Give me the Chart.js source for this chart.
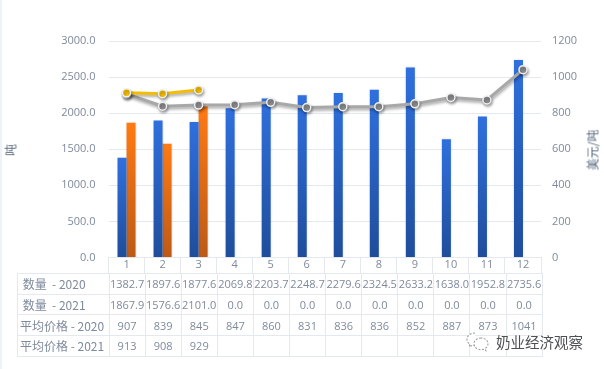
<!DOCTYPE html>
<html lang="zh">
<head>
<meta charset="utf-8">
<title>奶业经济观察</title>
<script src="https://cdn.jsdelivr.net/npm/chart.js@4"></script>
<style>
    html, body { margin: 0; padding: 0; background: #fff; }
    #wrap { position: relative; width: 604px; height: 369px; overflow: hidden; background: #fff;
            font-family: "Open Sans", "Noto Sans CJK SC", sans-serif; color: #7f8a9c; filter: blur(0.35px); }
    #wrap:before { content: ""; position: absolute; left: 0; top: 0; bottom: 0; width: 2px; background: #eef3fa; }
    canvas { position: absolute; left: 0; top: 0; }
    table { position: absolute; left: 17px; top: 273px; border-collapse: collapse; table-layout: fixed; font-size: 11px; }
    td { border: 1px solid #e4e8ef; width: 35.1px; height: 19.7px; padding: 0; text-align: center; white-space: nowrap; overflow: visible; }
    td.name { width: 88.5px; padding-left: 2px; text-align: left; font-family: "Noto Sans CJK SC", sans-serif; font-size: 12px; }
    .axis-title { position: absolute; font-family: "Noto Sans CJK SC", sans-serif; font-size: 12px; color: #56667c;
                  transform: translate(-50%, -50%) rotate(-90deg); white-space: nowrap; }
    #mark { position: absolute; left: 466px; top: 331px; display: flex; align-items: center; gap: 6px;
            font-family: "Noto Sans CJK SC", sans-serif; font-size: 14.5px; color: #4c4f53;
            text-shadow: 0 0 2px #fff, 0 0 2px #fff; }
</style>
</head>
<body>
<div id="wrap">
    <canvas id="mixChart" width="604" height="369"></canvas>
    <div class="axis-title" style="left: 10px; top: 150px;">吨</div>
    <div class="axis-title" style="left: 592px; top: 150px;">美元/吨</div>
    <table id="dataTable"></table>
    <div id="mark">
        <svg width="24" height="20" viewBox="0 0 24 20">
            <path d="M9 1C4.5 1 1 3.8 1 7.3c0 2 1.2 3.7 3 4.9L3.2 14.800l3-1.500c.9.200 1.800.300 2.800.300" fill="#fff" stroke="#9a9da1" stroke-width="1.100" stroke-dasharray="2 1.500"/>
            <path d="M15 6c-4 0-7 2.600-7 5.800s3 5.800 7 5.800c.8 0 1.500-.100 2.200-.300l2.600 1.400-.7-2.300c1.700-1.100 2.900-2.800 2.900-4.600C22 8.600 19 6 15 6z" fill="#fff" stroke="#9a9da1" stroke-width="1.100" stroke-dasharray="2 1.500"/>
        </svg>
        <span>奶业经济观察</span>
    </div>
</div>
<script>
"use strict";

const months = ['1', '2', '3', '4', '5', '6', '7', '8', '9', '10', '11', '12'];
const qty2020 = [1382.7, 1897.6, 1877.6, 2069.8, 2203.7, 2248.7, 2279.6, 2324.5, 2633.2, 1638.0, 1952.8, 2735.6];
const qty2021 = [1867.9, 1576.6, 2101.0, 0, 0, 0, 0, 0, 0, 0, 0, 0];
const price2020 = [907, 839, 845, 847, 860, 831, 836, 836, 852, 887, 873, 1041];
const price2021 = [913, 908, 929, null, null, null, null, null, null, null, null, null];

// Вертикальний градієнт окремо для кожного стовпчика
function barGradient(top, bottom) {
    return function(ctx) {
        const scale = ctx.chart.scales.y;
        if (!scale || ctx.raw === undefined) return top;
        const y0 = scale.getPixelForValue(ctx.raw);
        const y1 = scale.getPixelForValue(0);
        // До першого layout шкала ще не має координат
        if (!isFinite(y0) || !isFinite(y1)) return top;
        const g = ctx.chart.ctx.createLinearGradient(0, y0, 0, y1);
        g.addColorStop(0, top);
        g.addColorStop(1, bottom);
        return g;
    };
}

// Тінь під лініями та стовпчиками
const shadowPlugin = {
    id: 'shadow',
    beforeDatasetDraw: function(chart, args) {
        const c = chart.ctx;
        const isLine = args.meta.type === 'line';
        c.save();
        c.shadowColor = isLine ? 'rgba(0,0,0,0.35)' : 'rgba(0,0,0,0.15)';
        c.shadowBlur = isLine ? 3 : 2;
        c.shadowOffsetX = isLine ? 1 : 0.5;
        c.shadowOffsetY = isLine ? 2 : 0;
    },
    afterDatasetDraw: function(chart) {
        chart.ctx.restore();
    }
};

new Chart(document.getElementById('mixChart'), {
    type: 'bar',
    plugins: [shadowPlugin],
    data: {
        labels: months,
        datasets: [
            {
                label: '平均价格 - 2021', type: 'line', yAxisID: 'y1', data: price2021, order: 1,
                borderColor: '#f5bd00', backgroundColor: '#f5bd00', borderWidth: 3,
                pointRadius: 4, pointBorderColor: '#eceff3', pointBorderWidth: 1.5, tension: 0
            },
            {
                label: '平均价格 - 2020', type: 'line', yAxisID: 'y1', data: price2020, order: 2,
                borderColor: '#a8a8a8', backgroundColor: '#8c8c8c', borderWidth: 3,
                pointRadius: 4, pointBorderColor: '#eceff3', pointBorderWidth: 1.5, tension: 0
            },
            {
                label: '数量 - 2020', data: qty2020, yAxisID: 'y', order: 3,
                backgroundColor: barGradient('#2f70de', '#1f4d9b'),
                categoryPercentage: 0.5, barPercentage: 1
            },
            {
                label: '数量 - 2021', data: qty2021, yAxisID: 'y', order: 4,
                backgroundColor: barGradient('#ff7a12', '#bd5a16'),
                categoryPercentage: 0.5, barPercentage: 1
            }
        ]
    },
    options: {
        responsive: false,
        animation: false,
        layout: { padding: { top: 41, bottom: 95 } },
        plugins: { legend: { display: false }, tooltip: { enabled: false } },
        scales: {
            x: {
                grid: { color: '#e4e8ef', drawOnChartArea: false, tickLength: 16 },
                border: { color: '#e4e8ef' },
                ticks: { color: '#7f8a9c', font: { family: 'Open Sans', size: 11 }, padding: -15, maxRotation: 0 },
                afterFit: function(scale) { scale.height = 16.5; }
            },
            y: {
                position: 'left', min: 0, max: 3000,
                grid: { color: '#e4e8ef', drawTicks: false },
                border: { display: false },
                ticks: {
                    stepSize: 500, color: '#7f8a9c', padding: 13,
                    font: { family: 'Open Sans', size: 11 },
                    callback: function(v) { return v.toFixed(1); }
                },
                afterFit: function(scale) { scale.width = 108.5; }
            },
            y1: {
                position: 'right', min: 0, max: 1200,
                grid: { display: false, drawTicks: false },
                border: { display: false },
                ticks: {
                    stepSize: 200, color: '#7f8a9c', padding: 11,
                    font: { family: 'Open Sans', size: 11 },
                    callback: function(v) { return String(v); }
                },
                afterFit: function(scale) { scale.width = 63; }
            }
        }
    }
});

// Таблиця даних під графіком
const tableRows = [
    ['\u00a0数量\u00a0\u00a0- 2020', qty2020.map(function(v) { return v.toFixed(1); })],
    ['\u00a0数量\u00a0\u00a0- 2021', qty2021.map(function(v) { return v.toFixed(1); })],
    ['平均价格 - 2020', price2020.map(String)],
    ['平均价格 - 2021', price2021.map(function(v) { return v === null ? '' : String(v); })]
];
document.getElementById('dataTable').innerHTML = tableRows.map(function(row) {
    return '<tr><td class="name">' + row[0] + '</td>' +
        row[1].map(function(t) { return '<td>' + t + '</td>'; }).join('') + '</tr>';
}).join('');
</script>
</body>
</html>
